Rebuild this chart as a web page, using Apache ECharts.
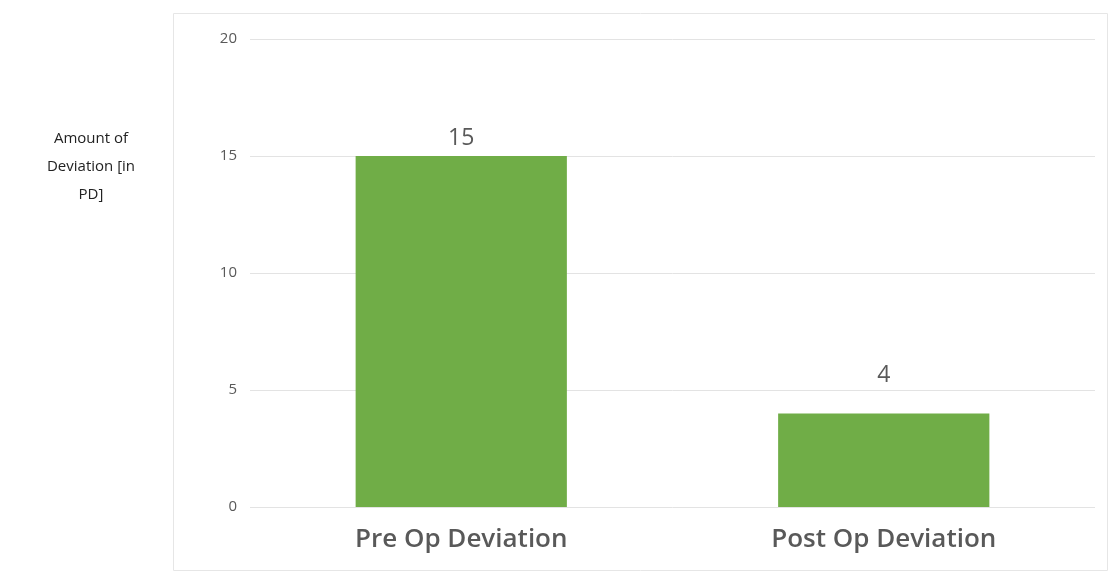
<!DOCTYPE html>
<html>
<head>
<meta charset="utf-8">
<script src="https://cdn.jsdelivr.net/npm/echarts@6/dist/echarts.min.js"></script>
<style>
  html, body { margin: 0; padding: 0; background: #fff; }
  #chart { width: 1113px; height: 574px; }
</style>
</head>
<body>
<div id="chart"></div>
<script>
// chart data
const categories = ['Pre Op Deviation', 'Post Op Deviation'];
const deviation = [15, 4];
const yTicks = { min: 0, max: 20, interval: 5 };

// the small bar's label sits higher above its bar in the original
const labelGap = [6, 26];

const chart = echarts.init(document.getElementById('chart'));

chart.setOption({
    animation: false,
    title: {
        text: 'Amount of\nDeviation [in\nPD]',
        left: 86,
        top: 120,
        textAlign: 'center',
        textStyle: {
            fontFamily: 'Open Sans',
            fontSize: 15,
            fontWeight: 'normal',
            color: '#222',
            lineHeight: 28
        }
    },
    graphic: [{
        type: 'rect',
        shape: { x: 173.5, y: 13.5, width: 934, height: 557 },
        style: { fill: 'none', stroke: '#e6e6e6', lineWidth: 1 },
        silent: true
    }],
    grid: { left: 250, right: 18, top: 39, bottom: 67 },
    xAxis: {
        type: 'category',
        data: categories,
        axisLine: { show: false },
        axisTick: { show: false },
        axisLabel: {
            margin: 20,
            fontFamily: 'Open Sans',
            fontSize: 26,
            fontWeight: 600,
            color: '#595959'
        }
    },
    yAxis: {
        type: 'value',
        min: yTicks.min,
        max: yTicks.max,
        interval: yTicks.interval,
        axisLine: { show: false },
        axisTick: { show: false },
        axisLabel: {
            margin: 13,
            fontFamily: 'Open Sans',
            fontSize: 15,
            color: '#595959'
        },
        splitLine: { lineStyle: { color: '#e3e3e3', width: 1 } }
    },
    series: [{
        type: 'bar',
        data: deviation.map((v, i) => ({ value: v, label: { distance: labelGap[i] } })),
        barWidth: '50%',
        itemStyle: { color: '#70ad47' },
        label: {
            show: true,
            position: 'top',
            fontFamily: 'Open Sans',
            fontSize: 23,
            color: '#595959'
        }
    }]
});
</script>
</body>
</html>
